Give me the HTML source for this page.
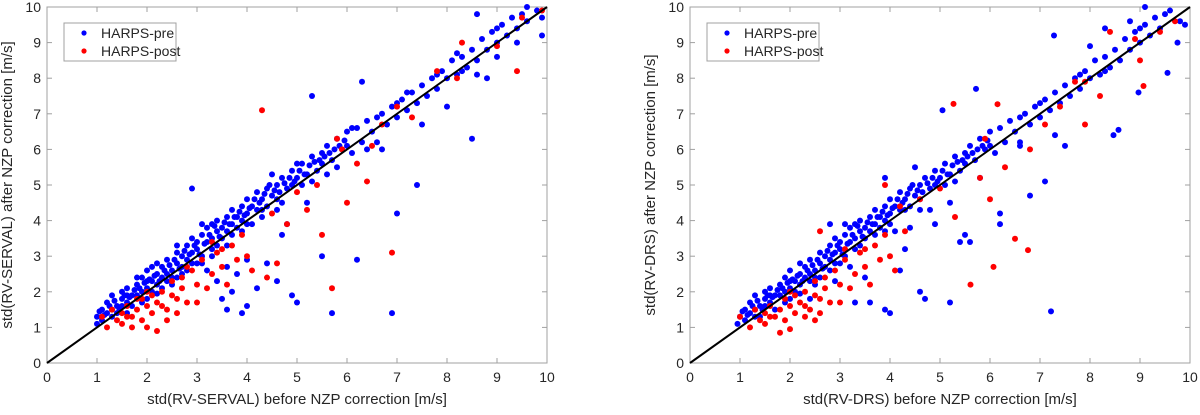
<!DOCTYPE html>
<html><head><meta charset="utf-8"><style>
body{margin:0;background:#fff;width:1200px;height:410px;overflow:hidden;font-family:"Liberation Sans",sans-serif}
svg text{font-family:"Liberation Sans",sans-serif;fill:#262626}
</style></head><body>
<svg id="chart" width="1200" height="410" viewBox="0 0 1200 410" xmlns="http://www.w3.org/2000/svg"></svg>
<script>
const ticks=[0,1,2,3,4,5,6,7,8,9,10];
const leftBlue=[[1.0,1.1],[1.0,1.3],[1.1,1.5],[1.1,1.2],[1.2,1.4],[1.2,1.7],[1.3,1.5],[1.3,1.9],[1.4,1.6],[1.4,1.4],[1.5,1.8],[1.5,2.0],[1.5,1.6],[1.6,1.7],[1.6,2.1],[1.7,1.9],[1.7,1.6],[1.8,2.2],[1.8,1.9],[1.9,2.0],[1.9,2.4],[2.0,2.1],[2.0,2.6],[2.0,1.8],[2.1,2.3],[2.1,2.0],[2.2,2.5],[2.2,2.2],[2.3,2.7],[2.3,2.4],[2.4,2.3],[2.4,2.9],[2.5,2.6],[2.5,2.4],[2.6,2.8],[2.6,3.1],[2.7,2.7],[2.7,3.0],[2.8,3.3],[2.8,2.9],[2.9,3.1],[2.9,2.8],[3.0,3.4],[3.0,3.2],[3.1,3.6],[3.1,3.0],[3.2,3.4],[3.2,3.8],[3.3,3.5],[3.3,3.2],[3.4,3.7],[3.4,4.0],[3.5,3.8],[3.5,3.5],[3.6,4.1],[3.6,3.7],[3.7,3.9],[3.7,4.3],[3.8,4.1],[3.8,3.8],[3.9,4.4],[3.9,4.0],[4.0,4.2],[4.0,4.6],[4.1,4.4],[4.2,4.8],[4.2,4.3],[4.3,4.6],[4.4,4.9],[4.4,4.4],[4.5,4.7],[4.6,5.0],[4.6,4.6],[4.7,5.2],[4.8,4.9],[4.9,5.4],[4.9,5.0],[5.0,5.2],[5.1,5.6],[5.1,5.0],[5.2,5.3],[5.3,5.8],[5.4,5.4],[5.5,5.9],[5.5,5.6],[5.6,6.1],[5.7,5.7],[5.8,6.3],[5.9,6.0],[6.0,6.5],[6.0,6.1],[6.1,5.9],[6.2,6.6],[6.3,6.2],[6.4,6.8],[6.5,6.5],[6.6,6.2],[6.7,7.0],[6.8,6.7],[6.9,7.2],[7.0,6.9],[7.1,7.4],[7.2,7.1],[7.3,7.6],[7.4,7.3],[7.5,7.8],[7.6,7.5],[7.7,8.0],[7.8,7.7],[7.9,8.2],[8.0,8.0],[8.1,8.5],[8.2,8.1],[8.3,8.6],[8.4,8.3],[8.5,8.8],[8.6,8.5],[8.7,9.1],[8.8,8.8],[8.9,9.3],[9.0,9.0],[9.1,9.5],[9.2,9.2],[9.3,9.7],[9.4,9.4],[9.5,9.8],[9.6,9.6],[9.8,9.9],[9.9,9.7],[3.5,1.8],[3.6,1.5],[3.7,2.0],[3.9,1.4],[4.0,1.6],[4.2,2.1],[3.4,2.3],[4.4,2.8],[5.0,1.7],[5.7,1.4],[6.9,1.4],[5.5,3.0],[6.2,2.9],[7.4,5.0],[8.5,6.3],[7.0,4.2],[2.9,4.9],[5.3,7.5],[6.3,7.9],[8.6,9.8],[9.9,9.2],[8.8,8.0],[9.0,8.6],[9.4,9.0],[8.0,7.2],[7.5,6.7],[6.7,6.0],[4.8,3.9],[5.2,4.5],[2.6,3.3],[2.1,2.7],[1.8,2.4],[4.5,5.3],[4.7,4.5],[5.6,5.3],[5.8,5.5],[6.4,6.0],[1.6,1.4],[2.3,2.1],[2.7,2.5],[3.1,2.8],[3.3,3.0],[3.6,3.3],[4.1,3.9],[4.3,4.1],[5.0,5.6],[6.1,6.6],[7.2,7.6],[8.2,8.7],[8.6,8.1],[3.8,2.5],[4.6,2.3],[4.9,1.9],[3.2,2.6],
[1.05,1.45],[1.15,1.35],[1.25,1.6],[1.35,1.75],[1.45,1.5],[1.55,1.9],[1.65,1.85],[1.75,2.05],[1.85,2.1],[1.95,2.25],[2.05,2.35],[2.15,2.45],[2.25,2.3],[2.35,2.6],[2.45,2.75],[2.55,2.9],[2.65,2.65],[2.75,3.15],[2.85,3.05],[2.95,3.3],[3.05,3.05],[3.15,3.35],[3.25,3.6],[3.35,3.85],[3.45,3.55],[3.55,3.95],[3.65,3.9],[3.75,4.1],[3.85,4.25],[3.95,4.15],[4.05,4.35],[4.15,4.6],[4.25,4.5],[4.35,4.75],[4.45,5.0],[4.55,4.85],[4.65,4.8],[4.75,5.05],[4.85,5.2],[4.95,5.1],[5.05,5.4],[5.15,5.3],[5.25,5.55],[5.35,5.65],[5.45,5.7],[5.55,5.8],[5.65,5.9],[5.75,6.0],[5.85,6.1],[5.95,6.25],[1.9,1.7],[2.2,1.95],[2.5,2.2],[2.8,2.6],[3.0,2.8],[3.4,3.3],[3.7,3.6],[4.0,3.9],[2.0,2.3],[2.4,2.5],[2.9,3.5],[3.3,3.9],[1.6,1.9],[1.3,1.3],[2.6,2.4],[3.9,3.7],[4.3,4.3],[4.6,4.3],[5.3,5.1],[6.6,6.9],[7.0,7.3],[7.8,8.1],[8.3,8.2],[9.0,9.4],[9.6,10.0],[3.1,3.9],[2.2,2.8],[4.0,2.9],[4.7,3.6],[3.6,2.7]];
const leftRed=[[1.1,1.3],[1.2,1.0],[1.3,1.5],[1.4,1.2],[1.5,1.4],[1.5,1.1],[1.6,1.6],[1.7,1.3],[1.7,1.0],[1.8,1.5],[1.9,1.8],[1.9,1.2],[2.0,1.6],[2.0,1.0],[2.1,1.9],[2.1,1.4],[2.2,0.9],[2.2,1.7],[2.3,2.0],[2.4,1.5],[2.4,1.2],[2.5,2.3],[2.6,1.8],[2.6,1.4],[2.7,2.4],[2.8,1.7],[2.9,2.6],[3.0,2.2],[3.0,1.7],[3.1,2.9],[3.2,2.1],[3.3,2.5],[3.4,3.1],[3.5,2.7],[3.6,2.2],[3.7,3.3],[3.8,2.9],[3.9,3.6],[4.0,3.0],[4.1,2.6],[4.3,7.1],[4.4,2.4],[4.6,2.8],[4.8,3.9],[5.0,4.8],[5.2,4.3],[5.4,5.0],[5.7,2.1],[5.8,6.3],[5.9,6.0],[6.0,4.5],[6.2,5.6],[6.4,5.1],[6.7,6.7],[6.9,3.1],[7.0,7.2],[7.3,6.9],[7.8,8.2],[8.2,8.0],[8.3,9.0],[9.0,8.9],[9.4,8.2],[9.5,9.7],[9.9,9.9],[4.5,4.2],[3.3,3.4],[2.8,2.7],[2.0,2.0],[1.8,1.8],[5.5,3.6],[6.5,6.1],[1.6,1.3],[2.3,1.6],[2.7,2.1],[3.5,3.2],[2.5,1.9]];
const rightBlue=[[0.95,1.1],[1.0,1.3],[1.1,1.5],[1.1,1.2],[1.2,1.4],[1.2,1.7],[1.3,1.5],[1.3,1.9],[1.4,1.6],[1.4,1.3],[1.5,1.8],[1.5,2.0],[1.5,1.6],[1.6,1.7],[1.6,2.1],[1.7,1.9],[1.7,1.5],[1.8,2.2],[1.8,1.9],[1.9,2.0],[1.9,2.4],[2.0,2.1],[2.0,2.6],[2.0,1.8],[2.1,2.3],[2.1,2.0],[2.2,2.5],[2.2,2.2],[2.3,2.7],[2.3,2.4],[2.4,2.3],[2.4,2.9],[2.5,2.6],[2.5,2.4],[2.6,2.8],[2.6,3.1],[2.7,2.7],[2.7,3.0],[2.8,3.3],[2.8,2.9],[2.9,3.1],[2.9,2.8],[3.0,3.4],[3.0,3.2],[3.1,3.6],[3.1,3.0],[3.2,3.4],[3.2,3.8],[3.3,3.5],[3.3,3.2],[3.4,3.7],[3.4,4.0],[3.5,3.8],[3.5,3.5],[3.6,4.1],[3.6,3.7],[3.7,3.9],[3.7,4.3],[3.8,4.1],[3.8,3.8],[3.9,4.4],[3.9,4.0],[4.0,4.2],[4.0,4.6],[4.1,4.4],[4.2,4.8],[4.2,4.3],[4.3,4.6],[4.4,4.9],[4.4,4.4],[4.5,4.7],[4.6,5.0],[4.6,4.6],[4.7,5.2],[4.8,4.9],[4.9,5.4],[4.9,5.0],[5.0,5.2],[5.1,5.6],[5.1,5.0],[5.2,5.3],[5.3,5.8],[5.4,5.4],[5.5,5.9],[5.5,5.6],[5.6,6.1],[5.7,5.7],[5.8,6.3],[5.9,6.0],[6.0,6.5],[6.0,6.1],[6.1,5.9],[6.2,6.6],[6.3,6.2],[6.4,6.8],[6.5,6.5],[6.6,6.2],[6.7,7.0],[6.8,6.7],[6.9,7.2],[7.0,6.9],[7.1,7.4],[7.2,7.1],[7.3,7.6],[7.4,7.3],[7.5,7.8],[7.6,7.5],[7.7,8.0],[7.8,7.7],[7.9,8.2],[8.0,8.0],[8.1,8.5],[8.2,8.1],[8.3,8.6],[8.4,8.3],[8.5,8.8],[8.6,8.5],[8.7,9.1],[8.8,8.8],[8.9,9.3],[9.0,9.0],[9.1,9.5],[9.2,9.2],[9.3,9.7],[9.4,9.4],[9.5,9.8],[9.6,9.9],[9.8,9.6],[9.9,9.5],[7.28,9.2],[5.72,7.7],[5.05,7.1],[7.1,5.1],[7.22,1.45],[8.47,6.4],[8.57,6.55],[9.55,8.15],[8.97,7.6],[9.1,10.0],[9.75,9.0],[3.6,1.7],[3.9,1.5],[4.0,1.4],[4.6,2.0],[4.7,1.8],[5.2,1.7],[3.3,1.7],[3.5,2.4],[4.2,2.6],[5.5,3.6],[5.6,3.4],[6.2,3.9],[6.8,4.7],[2.8,3.9],[3.9,5.2],[4.5,5.5],[6.6,6.1],[7.3,6.4],[7.5,6.1],[8.0,8.9],[8.3,9.4],[8.8,9.6],[2.4,1.8],[2.9,2.3],[3.2,2.7],[4.1,3.7],[4.4,3.8],[4.8,4.3],[5.2,4.5],[5.8,5.2],
[1.05,1.45],[1.15,1.35],[1.25,1.6],[1.35,1.75],[1.45,1.5],[1.55,1.9],[1.65,1.85],[1.75,2.05],[1.85,2.1],[1.95,2.25],[2.05,2.35],[2.15,2.45],[2.25,2.3],[2.35,2.6],[2.45,2.75],[2.55,2.9],[2.65,2.65],[2.75,3.15],[2.85,3.05],[2.95,3.3],[3.05,3.05],[3.15,3.35],[3.25,3.6],[3.35,3.85],[3.45,3.55],[3.55,3.95],[3.65,3.9],[3.75,4.1],[3.85,4.25],[3.95,4.15],[4.05,4.35],[4.15,4.6],[4.25,4.5],[4.35,4.75],[4.45,5.0],[4.55,4.85],[4.65,4.8],[4.75,5.05],[4.85,5.2],[4.95,5.1],[5.05,5.4],[5.15,5.3],[5.25,5.55],[5.35,5.65],[5.45,5.7],[5.55,5.8],[5.65,5.9],[5.75,6.0],[5.85,6.1],[5.95,6.25],[1.9,1.7],[2.2,1.95],[2.5,2.2],[2.8,2.6],[3.0,2.8],[3.4,3.3],[3.7,3.6],[4.0,3.9],[2.0,2.3],[2.4,2.5],[2.9,3.5],[3.3,3.9],[1.6,1.9],[1.3,1.3],[2.6,2.4],[3.9,3.7],[4.3,4.3],[4.6,4.3],[5.3,5.1],[6.6,6.9],[7.0,7.3],[7.8,8.1],[8.3,8.2],[9.0,9.4],[3.1,3.9],[2.2,2.8],[4.3,3.2],[4.9,3.9],[5.4,3.4],[6.2,4.2]];
const rightRed=[[1.0,1.3],[1.2,1.0],[1.3,1.5],[1.4,1.2],[1.5,1.4],[1.5,1.1],[1.6,1.6],[1.7,1.3],[1.8,0.85],[1.8,1.5],[1.9,1.8],[1.9,1.2],[2.0,1.6],[2.0,0.95],[2.1,1.9],[2.1,1.4],[2.3,1.3],[2.2,1.7],[2.3,2.0],[2.4,1.5],[2.5,1.2],[2.5,2.3],[2.6,1.8],[2.6,1.4],[2.7,2.4],[2.8,1.7],[2.9,2.6],[3.0,2.2],[3.0,1.7],[3.1,2.9],[3.2,2.1],[3.3,2.5],[3.4,3.1],[3.5,2.7],[3.6,2.2],[3.7,3.3],[3.8,2.9],[3.9,3.6],[4.0,3.0],[4.1,2.6],[3.9,5.0],[5.27,7.28],[6.15,7.27],[6.5,3.49],[6.76,3.17],[6.07,2.7],[5.61,2.2],[8.2,7.5],[7.9,6.7],[9.07,7.78],[4.2,4.4],[4.6,4.6],[5.0,4.9],[5.3,4.1],[5.8,5.2],[5.9,6.3],[6.0,4.6],[6.3,5.5],[6.8,6.0],[7.1,6.7],[7.4,7.2],[7.7,7.9],[7.9,7.9],[8.4,9.3],[8.9,9.1],[9.0,8.5],[9.4,9.3],[9.7,9.6],[2.6,3.7],[3.1,3.2],[4.3,3.7],[2.0,2.0],[1.6,1.3],[2.3,1.6],[2.7,2.1],[3.5,3.2],[2.5,1.9]];

const svg=document.getElementById('chart');
const NS='http://www.w3.org/2000/svg';
function mk(tag,attrs,parent){const e=document.createElementNS(NS,tag);for(const k in attrs)e.setAttribute(k,attrs[k]);(parent||svg).appendChild(e);return e;}
function panel(x0,name,xlabel,ylabel,blue,red){
  const W=500,top=7,bot=363;
  const sx=v=>x0+v/10*W, sy=v=>bot-v/10*(bot-top);
  const g=mk('g',{});
  
  
  const frame=mk('rect',{x:x0,y:top,width:W,height:bot-top,fill:'#fff',stroke:'#a0a0a0','stroke-width':1},g);
  
  
  ticks.forEach(t=>{
    mk('line',{x1:sx(t),x2:sx(t),y1:bot,y2:bot-5,stroke:'#a0a0a0'},g);
    mk('line',{x1:sx(t),x2:sx(t),y1:top,y2:top+5,stroke:'#a0a0a0'},g);
    mk('line',{x1:x0,x2:x0+5,y1:sy(t),y2:sy(t),stroke:'#a0a0a0'},g);
    mk('line',{x1:x0+W,x2:x0+W-5,y1:sy(t),y2:sy(t),stroke:'#a0a0a0'},g);
    const tx=mk('text',{x:sx(t),y:bot+19,'text-anchor':'middle','font-size':14},g);tx.textContent=t;
    
    
    const ty=mk('text',{x:x0-6,y:sy(t)+5,'text-anchor':'end','font-size':14},g);ty.textContent=t;
    
    
  });
  const xl=mk('text',{x:x0+W/2,y:404,'text-anchor':'middle','font-size':15},g);xl.textContent=xlabel;
  
  
  const yl=mk('text',{x:0,y:0,'text-anchor':'middle','font-size':15,transform:`translate(${x0-35},${(top+bot)/2}) rotate(-90)`},g);yl.textContent=ylabel;
  
  
  blue.forEach(p=>{const c=mk('circle',{cx:sx(p[0]),cy:sy(p[1]),r:3,fill:'#0000ff'},g);
    
    });
  red.forEach(p=>{const c=mk('circle',{cx:sx(p[0]),cy:sy(p[1]),r:3,fill:'#ff0000'},g);
    
    });
  const ln=mk('line',{x1:sx(0),y1:sy(0),x2:sx(10),y2:sy(10),stroke:'#000','stroke-width':2},g);
  
  
  const lg=mk('g',{},g);
  
  
  mk('rect',{x:x0+17,y:23,width:112,height:38,fill:'#fff',stroke:'#a0a0a0'},lg);
  mk('circle',{cx:x0+37,cy:33,r:2.6,fill:'#0000ff'},lg);
  mk('circle',{cx:x0+37,cy:51,r:2.6,fill:'#ff0000'},lg);
  const l1=mk('text',{x:x0+54,y:38,'font-size':14},lg);l1.textContent='HARPS-pre';
  
  
  const l2=mk('text',{x:x0+54,y:56,'font-size':14},lg);l2.textContent='HARPS-post';
  
  
}
panel(47,'serval-panel','std(RV-SERVAL) before NZP correction [m/s]','std(RV-SERVAL) after NZP correction [m/s]',leftBlue,leftRed);
panel(690,'drs-panel','std(RV-DRS) before NZP correction [m/s]','std(RV-DRS) after NZP correction [m/s]',rightBlue,rightRed);
</script>
</body></html>
